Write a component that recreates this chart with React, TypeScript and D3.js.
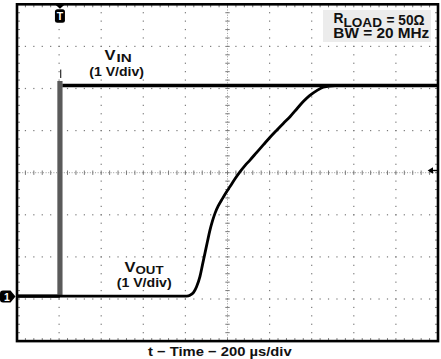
import React from 'react';
import * as d3 from 'd3';

const W = 441;
const H = 359;

// Scope screen: 10 x 8 divisions, 200 µs/div, 1 V/div
const X_DIVS = 10;
const Y_DIVS = 8;
const MINOR_PER_DIV = 5;
const TIME_DOMAIN = [0, 2000]; // µs
const VOLT_DOMAIN = [-1.07, 6.93]; // V (ground of both channels at 0)

// VIN trace
const VIN_STEP_T = 204;
const VIN_LOW_T = [0, 204];
const VIN_LOW_V = [0, 0];
const VIN_HIGH_T = [216, 2000];
const VIN_HIGH_V = [5, 5];
const VIN_EDGE_V = [0, 5.11];
const VIN_SPIKE_V = [5.18, 5.38];

// VOUT trace
const VOUT_T = [0, 780, 806, 822, 838, 853, 869, 881, 893, 905, 917, 929, 941, 956, 972, 992, 1012, 1035, 1059, 1083, 1107, 1140, 1170, 1200, 1234, 1265, 1297, 1330, 1360, 1390, 1424, 1455, 1511, 2000];
const VOUT_V = [0, 0, 0, 0.02, 0.08, 0.22, 0.46, 0.74, 1.02, 1.3, 1.57, 1.79, 1.97, 2.14, 2.28, 2.45, 2.6, 2.78, 2.95, 3.1, 3.23, 3.42, 3.59, 3.76, 3.94, 4.1, 4.26, 4.45, 4.62, 4.76, 4.88, 4.96, 5.0, 5.0];

const X_LABEL = 't − Time − 200 µs/div';
const FONT = '"Liberation Sans", Arial, Helvetica, sans-serif';

const L = 17, R = 438, T = 4.3, B = 341.1;

export default function App() {
  const xd = d3.scaleLinear().domain([0, X_DIVS]).range([L, R]);
  const yd = d3.scaleLinear().domain([0, Y_DIVS]).range([T, B]);
  const x = d3.scaleLinear().domain(TIME_DOMAIN).range([L, R]);
  const y = d3.scaleLinear().domain(VOLT_DOMAIN).range([B, T]);

  const dots: React.ReactNode[] = [];
  const gridCol = '#7a7a7a';
  for (let k = 1; k < X_DIVS; k++) {
    if (k === X_DIVS / 2) continue;
    for (let j = 1; j < Y_DIVS * MINOR_PER_DIV; j++) {
      dots.push(<rect key={`v${k}-${j}`} x={xd(k) - 0.6} y={yd(j / MINOR_PER_DIV) - 0.6} width={1.2} height={1.2} fill={gridCol} />);
    }
  }
  for (let k = 1; k < Y_DIVS; k++) {
    if (k === Y_DIVS / 2) continue;
    for (let j = 1; j < X_DIVS * MINOR_PER_DIV; j++) {
      dots.push(<rect key={`h${k}-${j}`} x={xd(j / MINOR_PER_DIV) - 0.6} y={yd(k) - 0.6} width={1.2} height={1.2} fill={gridCol} />);
    }
  }
  const cx = xd(X_DIVS / 2);
  const cy = yd(Y_DIVS / 2);
  const ticks: React.ReactNode[] = [];
  for (let j = 1; j < X_DIVS * MINOR_PER_DIV; j++) {
    const px = xd(j / MINOR_PER_DIV);
    ticks.push(<line key={`cxt${j}`} x1={px} x2={px} y1={cy - 2.2} y2={cy + 2.2} stroke={gridCol} strokeWidth={1} />);
    ticks.push(<line key={`tt${j}`} x1={px} x2={px} y1={T} y2={T + 3} stroke={gridCol} strokeWidth={1} />);
    ticks.push(<line key={`bt${j}`} x1={px} x2={px} y1={B - 3} y2={B} stroke={gridCol} strokeWidth={1} />);
  }
  for (let j = 1; j < Y_DIVS * MINOR_PER_DIV; j++) {
    const py = yd(j / MINOR_PER_DIV);
    ticks.push(<line key={`cyt${j}`} x1={cx - 2.2} x2={cx + 2.2} y1={py} y2={py} stroke={gridCol} strokeWidth={1} />);
    ticks.push(<line key={`lt${j}`} x1={L} x2={L + 3} y1={py} y2={py} stroke={gridCol} strokeWidth={1} />);
    ticks.push(<line key={`rt${j}`} x1={R - 3} x2={R} y1={py} y2={py} stroke={gridCol} strokeWidth={1} />);
  }

  const pathOf = (ts: number[], vs: number[], curve = d3.curveLinear) =>
    d3.line<number>().x((_, i) => x(ts[i])).y((_, i) => y(vs[i])).curve(curve)(ts) || '';

  const voutPath = pathOf(VOUT_T, VOUT_V, d3.curveMonotoneX);
  const vinLow = pathOf(VIN_LOW_T, VIN_LOW_V);
  const vinHigh = pathOf(VIN_HIGH_T, VIN_HIGH_V);

  const txt = (props: any, s: string) => (
    <text fontFamily={FONT} fontWeight="bold" fill="#111" lengthAdjust="spacingAndGlyphs" {...props}>{s}</text>
  );

  const stepX = x(VIN_STEP_T);

  return (
    <svg width={W} height={H} viewBox={`0 0 ${W} ${H}`} style={{ position: 'absolute', left: 0, top: 0, background: '#fff' }}>
      <rect x={0} y={0} width={W} height={H} fill="#fff" />
      {dots}
      <line x1={cx} x2={cx} y1={T} y2={B} stroke="#9a9a9a" strokeWidth={1} strokeDasharray="1,1.6" />
      <line x1={L} x2={R} y1={cy} y2={cy} stroke="#9a9a9a" strokeWidth={1} strokeDasharray="1,1.6" />
      {ticks}

      {/* label backgrounds */}
      <rect x={87} y={47.5} width={60} height={31.5} fill="#fff" />
      <rect x={114} y={258.5} width={60} height={31.5} fill="#fff" />
      <rect x={323} y={10} width={108} height={32} fill="#ececec" />

      {/* VIN */}
      <path d={vinLow} fill="none" stroke="#000" strokeWidth={3.2} />
      <line x1={stepX} x2={stepX} y1={y(VIN_EDGE_V[0]) + 1} y2={y(VIN_EDGE_V[1])} stroke="#5a5a5a" strokeWidth={5.2} />
      <line x1={stepX + 0.8} x2={stepX + 0.8} y1={y(VIN_SPIKE_V[0])} y2={y(VIN_SPIKE_V[1])} stroke="#000" strokeWidth={1} />
      <path d={vinHigh} fill="none" stroke="#000" strokeWidth={3.4} />
      {/* VOUT */}
      <path d={voutPath} fill="none" stroke="#000" strokeWidth={2.8} strokeLinejoin="round" />

      {/* frame */}
      <rect x={L} y={T} width={R - L} height={B - T} fill="none" stroke="#000" strokeWidth={2.6} />

      {/* trigger position marker */}
      <path d={`M${stepX - 4.5},${T + 0.5} L${stepX + 4.5},${T + 0.5} L${stepX},${T + 4.5} Z`} fill="#000" />
      <rect x={stepX - 5} y={9.3} width={10} height={13.5} rx={2.5} fill="#000" />
      <text x={stepX} y={20.3} textAnchor="middle" fontFamily={FONT} fontWeight="bold" fontSize={10.5} fill="#fff">T</text>

      {/* channel 1 ground marker */}
      <path d={`M3,290.6 L10.5,290.6 L15.5,296.6 L10.5,302.6 L3,302.6 Q0,302.6 0,299.6 L0,293.6 Q0,290.6 3,290.6 Z`} fill="#000" />
      <text x={7} y={300.6} textAnchor="middle" fontFamily={FONT} fontWeight="bold" fontSize={10.5} fill="#fff">1</text>

      {/* trigger level marker */}
      <path d="M427.6,170.5 L433,167.3 L433,173.7 Z" fill="#000" />
      <line x1={432.5} x2={R} y1={170.5} y2={170.5} stroke="#000" strokeWidth={1.4} />

      {/* VIN label */}
      {txt({ x: 104.5, y: 60, fontSize: 13.8, textLength: 11 }, 'V')}
      {txt({ x: 116.5, y: 62.3, fontSize: 11.5, textLength: 15.2 }, 'IN')}
      {txt({ x: 89.3, y: 75.8, fontSize: 13, textLength: 54.7 }, '(1 V/div)')}

      {/* VOUT label */}
      {txt({ x: 124.5, y: 272.3, fontSize: 13.8, textLength: 11 }, 'V')}
      {txt({ x: 135.5, y: 274.3, fontSize: 11.2, textLength: 28 }, 'OUT')}
      {txt({ x: 116.7, y: 286.6, fontSize: 12.8, textLength: 55 }, '(1 V/div)')}

      {/* conditions box */}
      {txt({ x: 333.5, y: 23, fontSize: 14, textLength: 10 }, 'R')}
      {txt({ x: 343.5, y: 26.8, fontSize: 12.5, textLength: 38.5 }, 'LOAD')}
      {txt({ x: 386.5, y: 25, fontSize: 13.8, textLength: 38 }, '= 50Ω')}
      {txt({ x: 333.3, y: 38.3, fontSize: 14, textLength: 96 }, 'BW = 20 MHz')}

      {/* x label */}
      {txt({ x: 148, y: 356.3, fontSize: 13.2, textLength: 143.6 }, X_LABEL)}
    </svg>
  );
}
